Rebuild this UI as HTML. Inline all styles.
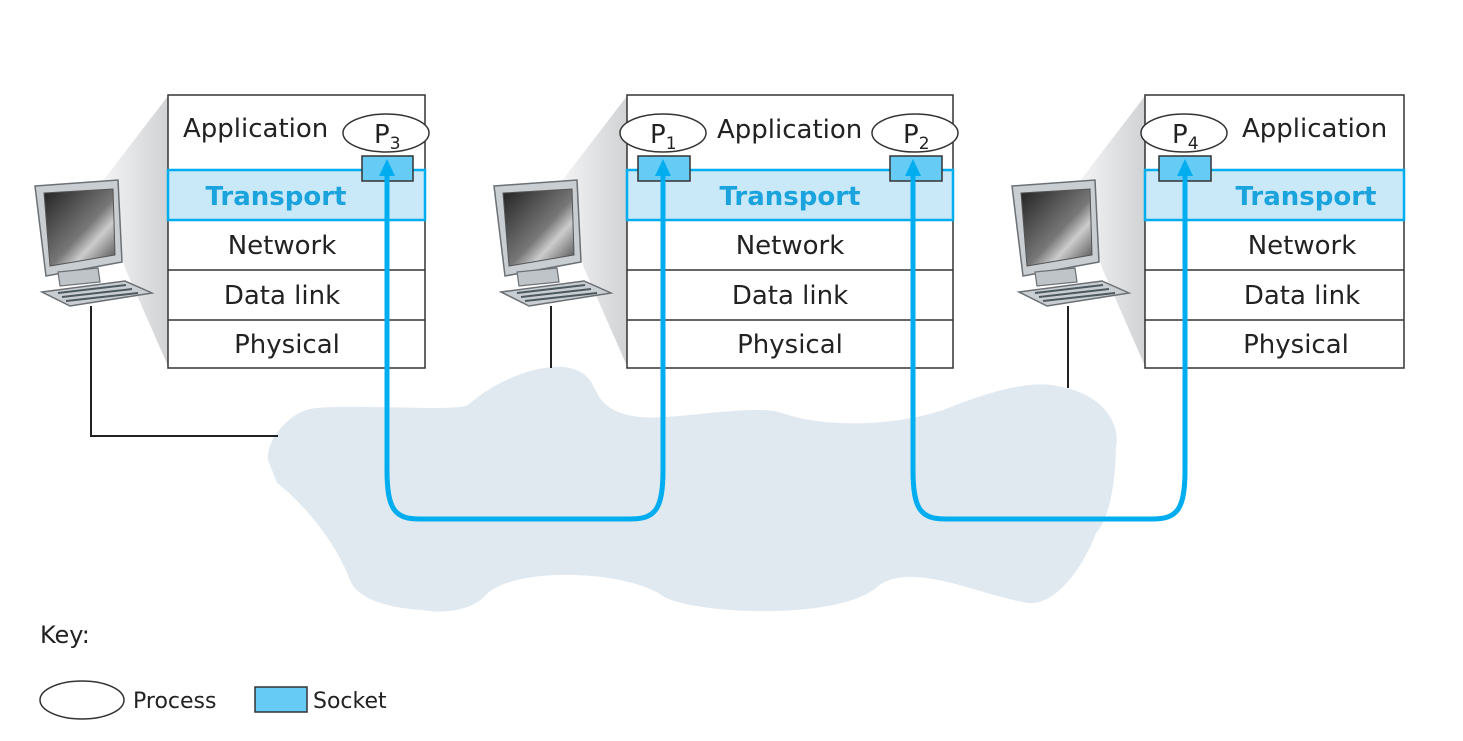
<!DOCTYPE html>
<html><head><meta charset="utf-8"><style>
html,body{margin:0;padding:0;background:#fff;}
svg{display:block;font-family:"DejaVu Sans","Liberation Sans",sans-serif;}
</style></head><body>
<svg width="1463" height="741" viewBox="0 0 1463 741" xmlns="http://www.w3.org/2000/svg">
<defs>
<linearGradient id="sh" x1="0" y1="0" x2="1" y2="0">
<stop offset="0" stop-color="#f4f4f5"/><stop offset="1" stop-color="#d0d2d4"/></linearGradient>
<linearGradient id="scr" x1="0" y1="0" x2="1" y2="1">
<stop offset="0" stop-color="#222"/><stop offset="0.55" stop-color="#777"/><stop offset="0.7" stop-color="#ccc"/><stop offset="1" stop-color="#444"/></linearGradient>
<g id="comp">
<polygon points="35,186 118,180 122,262 46,276" fill="#c9ced3" stroke="#6b7075" stroke-width="1.5"/>
<polygon points="44,193 113,189 115,255 50,266" fill="url(#scr)" stroke="#555" stroke-width="1"/>
<polygon points="58,272 98,268 100,282 60,286" fill="#bfc4c9" stroke="#6b7075" stroke-width="1.2"/>
<polygon points="42,292 125,281 152,293 70,306" fill="#c9ced3" stroke="#6b7075" stroke-width="1.5"/>
<line x1="58" y1="293" x2="126" y2="285" stroke="#4c5a60" stroke-width="2"/>
<line x1="62" y1="297" x2="132" y2="289" stroke="#4c5a60" stroke-width="2"/>
<line x1="66" y1="301" x2="138" y2="293" stroke="#4c5a60" stroke-width="2"/>
</g>
</defs>

<path d="M268,460 C266,440 290,410 316,408 C360,404 455,412 468,405 C490,385 530,365 563,367 C590,370 592,385 597,393 C610,420 650,418 664,417 C700,415 760,405 782,413 C830,430 910,425 956,405 C990,392 1030,380 1057,386 C1110,395 1120,430 1116,447 C1115,490 1108,520 1096,533 C1080,575 1050,610 1023,602 C980,595 910,560 877,587 C840,620 700,615 664,597 C630,570 510,565 484,597 C465,615 430,612 423,610 C380,608 355,595 350,580 C335,540 300,500 277,483 Z" fill="#e1e9f0"/>

<polygon points="168,96 102,182 125,268 168,366" fill="url(#sh)"/>
<polygon points="627,96 561,182 584,268 627,366" fill="url(#sh)"/>
<polygon points="1145,96 1079,182 1102,268 1145,366" fill="url(#sh)"/>

<use href="#comp"/>
<use href="#comp" x="459"/>
<use href="#comp" x="977"/>

<polyline points="91,306 91,436 278,436" fill="none" stroke="#222" stroke-width="2"/>
<line x1="551" y1="306" x2="551" y2="368" stroke="#222" stroke-width="2"/>
<line x1="1068" y1="306" x2="1068" y2="388" stroke="#222" stroke-width="2"/>

<g stroke="#333" stroke-width="1.5" fill="#fff">
<rect x="168" y="95" width="257" height="273"/>
<rect x="627" y="95" width="326" height="273"/>
<rect x="1145" y="95" width="259" height="273"/>
<line x1="168" y1="270" x2="425" y2="270"/><line x1="168" y1="320" x2="425" y2="320"/>
<line x1="627" y1="270" x2="953" y2="270"/><line x1="627" y1="320" x2="953" y2="320"/>
<line x1="1145" y1="270" x2="1404" y2="270"/><line x1="1145" y1="320" x2="1404" y2="320"/>
</g>
<g fill="#c9e8f8" stroke="#00aeef" stroke-width="2.5">
<rect x="168" y="170" width="257" height="50"/>
<rect x="627" y="170" width="326" height="50"/>
<rect x="1145" y="170" width="259" height="50"/>
</g>

<g font-size="26" fill="#222">
<text x="183" y="137">Application</text>
<text x="717" y="138">Application</text>
<text x="1242" y="137">Application</text>
<g text-anchor="middle">
<text x="282" y="254">Network</text><text x="282" y="304">Data link</text><text x="287" y="353">Physical</text>
<text x="790" y="254">Network</text><text x="790" y="304">Data link</text><text x="790" y="353">Physical</text>
<text x="1302" y="254">Network</text><text x="1302" y="304">Data link</text><text x="1296" y="353">Physical</text>
</g>
</g>
<g font-size="26" font-weight="bold" fill="#1aa3dc" text-anchor="middle">
<text x="276" y="205">Transport</text><text x="790" y="205">Transport</text><text x="1306" y="205">Transport</text>
</g>

<g fill="#66ccf5" stroke="#333" stroke-width="1.5">
<rect x="362" y="156" width="51" height="25"/>
<rect x="638" y="156" width="52" height="25"/>
<rect x="890" y="156" width="52" height="25"/>
<rect x="1159" y="156" width="52" height="25"/>
</g>

<g fill="none" stroke="#00aeef" stroke-width="5">
<path d="M387,172 L387,470 C387,510 395,519 420,519 L630,519 C655,519 663,510 663,470 L663,172"/>
<path d="M913,172 L913,470 C913,510 921,519 946,519 L1152,519 C1177,519 1185,510 1185,470 L1185,172"/>
</g>
<g fill="#00aeef">
<polygon points="387,159 379,176 395,176"/><polygon points="663,159 655,176 671,176"/>
<polygon points="913,159 905,176 921,176"/><polygon points="1185,159 1177,176 1193,176"/>
</g>

<g fill="#fff" stroke="#333" stroke-width="1.5">
<ellipse cx="386" cy="133" rx="43" ry="19"/>
<ellipse cx="663" cy="133" rx="43" ry="19"/>
<ellipse cx="915" cy="133" rx="43" ry="19"/>
<ellipse cx="1184" cy="133" rx="43" ry="19"/>
</g>
<g font-size="26" fill="#222">
<text x="374" y="143">P<tspan font-size="17" dy="6">3</tspan></text>
<text x="650" y="143">P<tspan font-size="17" dy="6">1</tspan></text>
<text x="903" y="143">P<tspan font-size="17" dy="6">2</tspan></text>
<text x="1172" y="143">P<tspan font-size="17" dy="6">4</tspan></text>
</g>

<text x="40" y="643" font-size="24" fill="#222">Key:</text>
<ellipse cx="82" cy="700" rx="42" ry="19" fill="#fff" stroke="#333" stroke-width="1.5"/>
<text x="133" y="708" font-size="22" fill="#222">Process</text>
<rect x="255" y="687" width="52" height="25" fill="#66ccf5" stroke="#333" stroke-width="1.5"/>
<text x="313" y="708" font-size="22" fill="#222">Socket</text>
</svg>
</body></html>
